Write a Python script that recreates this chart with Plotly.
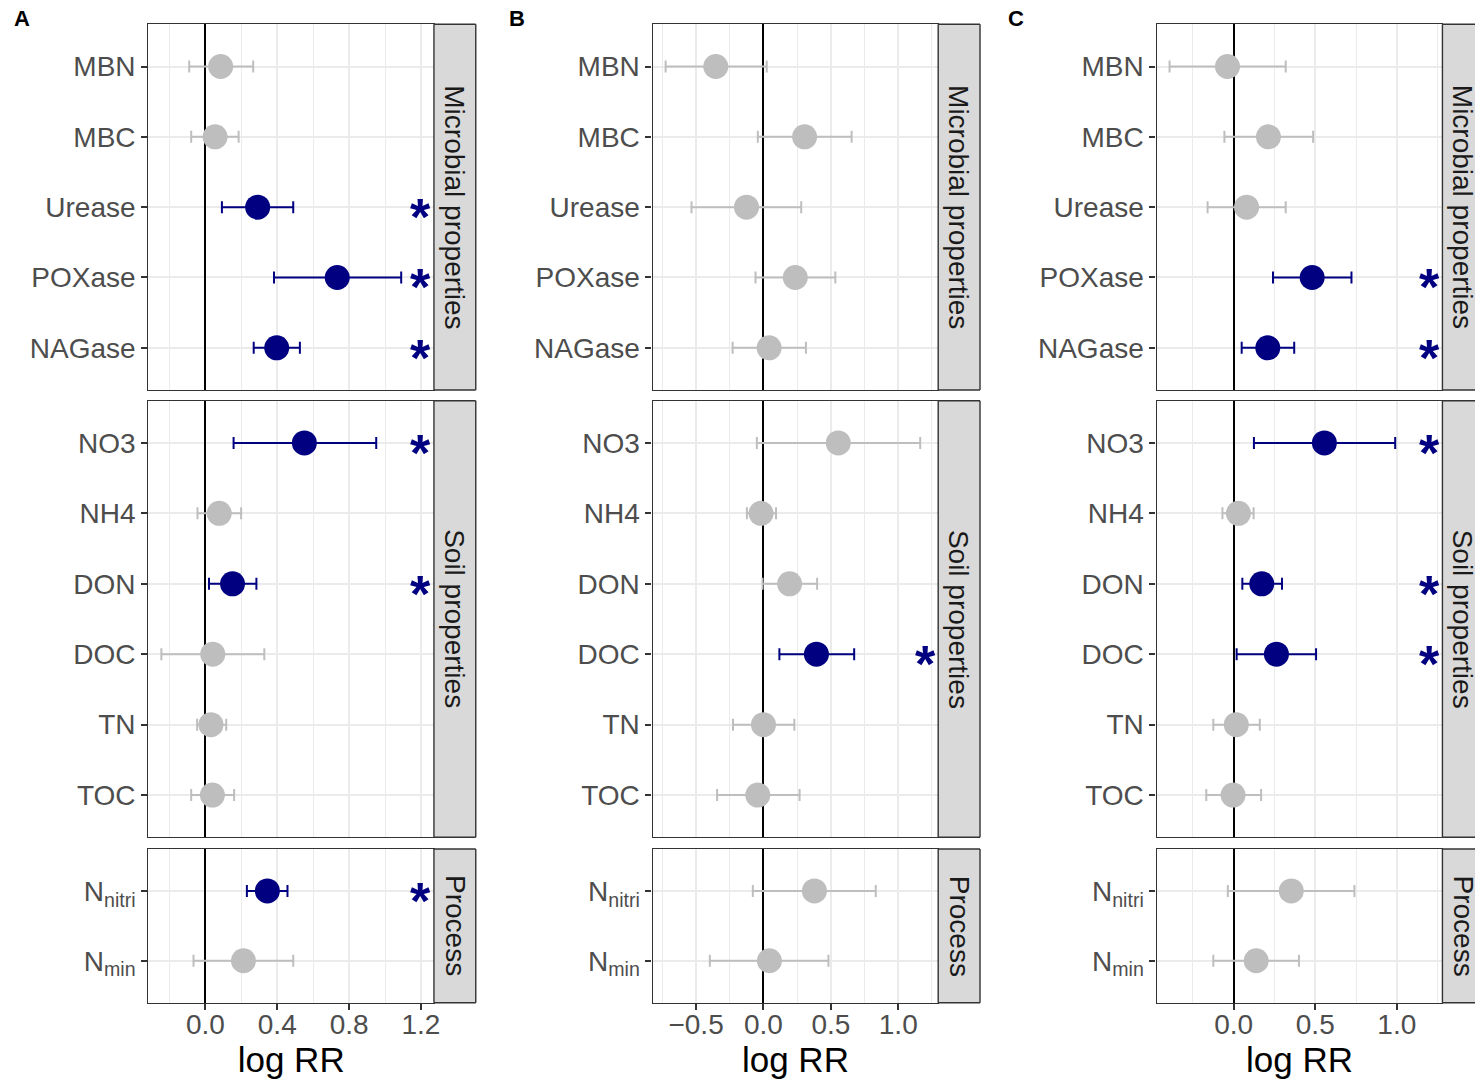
import plotly.graph_objects as go

W, H = 1481, 1081
FONT = "Liberation Sans, Arial, Helvetica, sans-serif"
NAVY = "#000080"
GREY = "#bebebe"

# ---------------- data ----------------
micro_cats = ["MBN", "MBC", "Urease", "POXase", "NAGase"]
soil_cats = ["NO3", "NH4", "DON", "DOC", "TN", "TOC"]
proc_cats = ["Nnitri", "Nmin"]
proc_labels = ["N<sub>nitri</sub>", "N<sub>min</sub>"]
group_names = ["Microbial properties", "Soil properties", "Process"]
panel_letters = ["A", "B", "C"]
star_x = 1.2

# Panel A
A_micro_mean = [0.085, 0.054, 0.291, 0.734, 0.397]
A_micro_lo = [-0.090, -0.079, 0.092, 0.382, 0.269]
A_micro_hi = [0.266, 0.185, 0.489, 1.090, 0.526]
A_micro_sig = [0, 0, 1, 1, 1]
A_soil_mean = [0.551, 0.077, 0.151, 0.041, 0.031, 0.039]
A_soil_lo = [0.157, -0.044, 0.020, -0.245, -0.046, -0.079]
A_soil_hi = [0.951, 0.199, 0.284, 0.328, 0.116, 0.160]
A_soil_sig = [1, 0, 1, 0, 0, 0]
A_proc_mean = [0.345, 0.212]
A_proc_lo = [0.231, -0.066]
A_proc_hi = [0.457, 0.489]
A_proc_sig = [1, 0]

# Panel B
B_micro_mean = [-0.354, 0.305, -0.126, 0.236, 0.042]
B_micro_lo = [-0.726, -0.042, -0.534, -0.059, -0.229]
B_micro_hi = [0.024, 0.654, 0.280, 0.533, 0.315]
B_micro_sig = [0, 0, 0, 0, 0]
B_soil_mean = [0.555, -0.018, 0.194, 0.393, 0.000, -0.042]
B_soil_lo = [-0.049, -0.123, -0.007, 0.118, -0.226, -0.344]
B_soil_hi = [1.163, 0.093, 0.398, 0.673, 0.229, 0.268]
B_soil_sig = [0, 0, 0, 1, 0, 0]
B_proc_mean = [0.378, 0.044]
B_proc_lo = [-0.079, -0.398]
B_proc_hi = [0.833, 0.482]
B_proc_sig = [0, 0]

# Panel C
C_micro_mean = [-0.038, 0.213, 0.079, 0.481, 0.209]
C_micro_lo = [-0.393, -0.057, -0.160, 0.241, 0.049]
C_micro_hi = [0.319, 0.487, 0.319, 0.722, 0.371]
C_micro_sig = [0, 0, 0, 1, 1]
C_soil_mean = [0.556, 0.029, 0.172, 0.262, 0.016, -0.004]
C_soil_lo = [0.124, -0.069, 0.053, 0.018, -0.125, -0.168]
C_soil_hi = [0.990, 0.122, 0.296, 0.505, 0.160, 0.168]
C_soil_sig = [1, 0, 1, 1, 0, 0]
C_proc_mean = [0.353, 0.138]
C_proc_lo = [-0.036, -0.125]
C_proc_hi = [0.740, 0.400]
C_proc_sig = [0, 0]

x_dticks = [0.4, 0.5, 0.5]

panels = [
    [(micro_cats, micro_cats, A_micro_mean, A_micro_lo, A_micro_hi, A_micro_sig),
     (soil_cats, soil_cats, A_soil_mean, A_soil_lo, A_soil_hi, A_soil_sig),
     (proc_cats, proc_labels, A_proc_mean, A_proc_lo, A_proc_hi, A_proc_sig)],
    [(micro_cats, micro_cats, B_micro_mean, B_micro_lo, B_micro_hi, B_micro_sig),
     (soil_cats, soil_cats, B_soil_mean, B_soil_lo, B_soil_hi, B_soil_sig),
     (proc_cats, proc_labels, B_proc_mean, B_proc_lo, B_proc_hi, B_proc_sig)],
    [(micro_cats, micro_cats, C_micro_mean, C_micro_lo, C_micro_hi, C_micro_sig),
     (soil_cats, soil_cats, C_soil_mean, C_soil_lo, C_soil_hi, C_soil_sig),
     (proc_cats, proc_labels, C_proc_mean, C_proc_lo, C_proc_hi, C_proc_sig)],
]

# ---------------- layout geometry (pixels) ----------------
col_px = [(149.0, 435.7), (655.3, 942.0), (1161.3, 1448.3)]
row_px = [(24.3, 390.0), (400.7, 837.3), (849.0, 1002.7)]
letter_px = [22, 519, 1020]
STRIP_W = 42
BORDER = "#333333"

fig = go.Figure()
layout = dict(
    width=W, height=H, autosize=False,
    margin=dict(l=0, r=0, t=0, b=0),
    paper_bgcolor="white", plot_bgcolor="white",
    font=dict(family=FONT, color="#4d4d4d", size=28),
    showlegend=False,
)
shapes = []
annotations = []


def pline(xa_, ya_, xb_, yb_):
    return dict(type="line", xref="paper", yref="paper",
                x0=xa_ / W, x1=xb_ / W, y0=1 - ya_ / H, y1=1 - yb_ / H,
                line=dict(color=BORDER, width=1.4), layer="above")


for c in range(3):
    # x range like ggplot: data limits (lower CI .. star) expanded by 5%
    all_lo = [v for grp in panels[c] for v in grp[3]]
    all_hi = [v for grp in panels[c] for v in grp[4]] + [star_x]
    lo_lim, hi_lim = min(all_lo), max(all_hi)
    pad = 0.05 * (hi_lim - lo_lim)
    xrng = [lo_lim - pad, hi_lim + pad]
    x0p, x1p = col_px[c]
    for r in range(3):
        cats, labels, mean, lo, hi, sig = panels[c][r]
        k = c * 3 + r + 1
        xa = "xaxis" if k == 1 else f"xaxis{k}"
        ya = "yaxis" if k == 1 else f"yaxis{k}"
        xr = "x" if k == 1 else f"x{k}"
        yr = "y" if k == 1 else f"y{k}"
        y0p, y1p = row_px[r]
        bottom = (r == 2)
        layout[xa] = dict(
            domain=[x0p / W, x1p / W], anchor=yr, range=xrng,
            dtick=x_dticks[c], tick0=0, tickformat=".1f",
            showgrid=True, gridcolor="#ebebeb", gridwidth=1.6,
            minor=dict(dtick=x_dticks[c] / 2, tick0=0, showgrid=True,
                       gridcolor="#ebebeb", gridwidth=0.9),
            zeroline=True, zerolinecolor="black", zerolinewidth=2,
            showline=True, mirror=True, linecolor=BORDER, linewidth=1.4,
            ticks="outside" if bottom else "", ticklen=6, tickwidth=1.5,
            tickcolor=BORDER,
            showticklabels=bottom, ticklabelstandoff=-10,
            tickfont=dict(size=28, color="#4d4d4d", family=FONT),
            fixedrange=True,
        )
        if bottom:
            layout[xa]["title"] = dict(text="log RR", standoff=8,
                                       font=dict(size=35, color="black", family=FONT))
        n = len(cats)
        layout[ya] = dict(
            domain=[1 - y1p / H, 1 - y0p / H], anchor=xr,
            type="category", categoryorder="array",
            categoryarray=list(reversed(cats)),
            range=[-0.6, n - 0.4],
            tickvals=cats, ticktext=labels,
            showgrid=True, gridcolor="#ebebeb", gridwidth=1.6,
            zeroline=False,
            showline=True, mirror=True, linecolor=BORDER, linewidth=1.4,
            ticks="outside", ticklen=6, tickwidth=1.5, tickcolor=BORDER,
            tickfont=dict(size=28, color="#4d4d4d", family=FONT),
            fixedrange=True,
        )
        for s_flag, col in [(0, GREY), (1, NAVY)]:
            idx = [i for i in range(n) if sig[i] == s_flag]
            if not idx:
                continue
            fig.add_trace(go.Scatter(
                x=[mean[i] for i in idx], y=[cats[i] for i in idx],
                mode="markers", xaxis=xr, yaxis=yr,
                marker=dict(size=25, color=col, line=dict(width=0)),
                error_x=dict(type="data", symmetric=False,
                             array=[hi[i] - mean[i] for i in idx],
                             arrayminus=[mean[i] - lo[i] for i in idx],
                             color=col, thickness=2, width=6),
                hoverinfo="skip",
            ))
        for i in range(n):
            if sig[i]:
                annotations.append(dict(
                    x=star_x, y=cats[i], xref=xr, yref=yr, text="<b>*</b>",
                    showarrow=False, yshift=-10, xanchor="center", yanchor="middle",
                    font=dict(size=52, color=NAVY, family=FONT),
                ))
        # strip (the right-most one is cut by the page edge, as in the reference)
        sx_end = min(x1p + STRIP_W, W)
        shapes.append(dict(type="rect", xref="paper", yref="paper",
                           x0=x1p / W, x1=sx_end / W, y0=1 - y1p / H, y1=1 - y0p / H,
                           fillcolor="#d9d9d9", line=dict(width=0), layer="above"))
        shapes.append(pline(x1p, y0p, sx_end, y0p))
        shapes.append(pline(x1p, y1p, sx_end, y1p))
        shapes.append(pline(x1p, y0p, x1p, y1p))
        if x1p + STRIP_W <= W:
            shapes.append(pline(sx_end, y0p, sx_end, y1p))
        annotations.append(dict(
            x=(x1p + STRIP_W / 2) / W, y=1 - (y0p + y1p) / 2 / H,
            xref="paper", yref="paper", text=group_names[r], textangle=90,
            xanchor="center", yanchor="middle",
            showarrow=False, font=dict(size=28, color="#1a1a1a", family=FONT),
        ))
    annotations.append(dict(
        x=letter_px[c] / W, y=1 - 18 / H, xref="paper", yref="paper",
        xanchor="center", yanchor="middle",
        text=f"<b>{panel_letters[c]}</b>", showarrow=False,
        font=dict(size=22, color="black", family=FONT),
    ))

layout["shapes"] = shapes
layout["annotations"] = annotations
fig.update_layout(**layout)

post_js = (
    "var st=document.createElement('style');"
    "st.textContent='html,body{margin:0;padding:0;overflow:hidden;}"
    ".plotly-graph-div,.svg-container{overflow:hidden !important;}';"
    "document.head.appendChild(st);"
    "var gd=document.getElementById('{plot_id}');"
    "var vw=Math.max(window.innerWidth||0, document.documentElement.clientWidth||0);"
    "if(vw>1481 && vw<1600){gd.style.width=vw+'px';Plotly.relayout(gd,{width:vw});}"
)
fig.write_html("out.html",
               config={"displayModeBar": False, "responsive": False},
               default_width="1481px", default_height="1081px",
               post_script=post_js)
